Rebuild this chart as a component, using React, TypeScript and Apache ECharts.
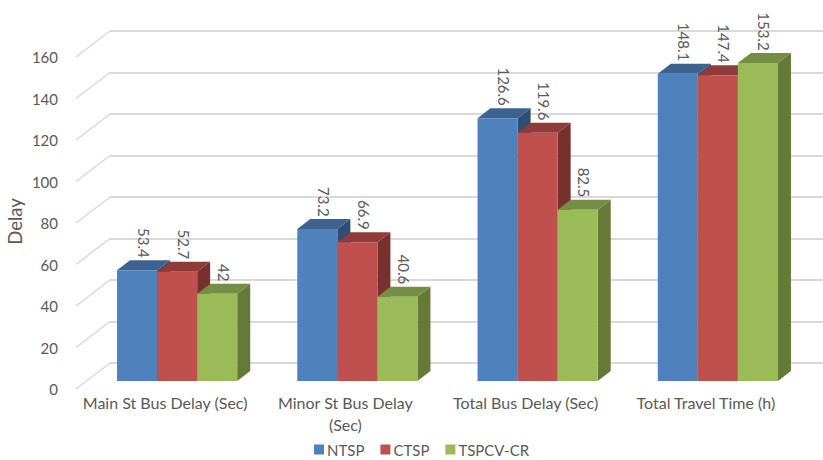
import React, { useEffect, useRef } from "react";
import * as echarts from "echarts";

const categories = [
  "Main St Bus Delay (Sec)",
  "Minor St Bus Delay\n(Sec)",
  "Total Bus Delay (Sec)",
  "Total Travel Time (h)",
];
const ntsp = [53.4, 73.2, 126.6, 148.1];
const ctsp = [52.7, 66.9, 119.6, 147.4];
const tspcv = [42, 40.6, 82.5, 153.2];
const ticks = [0, 20, 40, 60, 80, 100, 120, 140, 160];

const FONT = "Lato";
const TEXT = "#595959";
const GRID = "#D9D9D9";

// Depth of the extruded bars and of the wall behind them, in pixels.
const BAR_DX = 13;
const BAR_DY = 10;
const WALL_DX = 34;
const WALL_DY = 26;

const palette = [
  { name: "NTSP", values: ntsp, front: "#4F81BD", top: "#3C6390", side: "#2F4E75" },
  { name: "CTSP", values: ctsp, front: "#C0504D", top: "#8F3B39", side: "#77302E" },
  { name: "TSPCV-CR", values: tspcv, front: "#9BBB59", top: "#758E43", side: "#647A36" },
];

const BACK_GRID = 0;
const FRONT_GRID = 1;
const BAR_GRID = 2;

function barLeft(center: number, band: number, index: number) {
  const width = band / 4.5;
  return center - 1.5 * width + index * width;
}

function barSeries(entry: (typeof palette)[number], index: number) {
  return {
    type: "custom",
    name: entry.name,
    xAxisIndex: BAR_GRID,
    yAxisIndex: BAR_GRID,
    silent: true,
    itemStyle: { color: entry.front },
    data: entry.values.map((v, i) => [i, v]),
    encode: { x: 0, y: 1 },
    renderItem(_params: any, api: any) {
      const [cx, yTop] = api.coord([api.value(0), api.value(1)]);
      const [, yBase] = api.coord([api.value(0), 0]);
      const band = api.size([1, 0])[0];
      const w = band / 4.5;
      const x = barLeft(cx, band, index);
      return {
        type: "group",
        children: [
          {
            type: "polygon",
            shape: {
              points: [
                [x + w, yTop],
                [x + w + BAR_DX, yTop - BAR_DY],
                [x + w + BAR_DX, yBase - BAR_DY],
                [x + w, yBase],
              ],
            },
            style: { fill: entry.side },
          },
          {
            type: "polygon",
            shape: {
              points: [
                [x, yTop],
                [x + BAR_DX, yTop - BAR_DY],
                [x + w + BAR_DX, yTop - BAR_DY],
                [x + w, yTop],
              ],
            },
            style: { fill: entry.top },
          },
          {
            type: "rect",
            shape: { x, y: yTop, width: w, height: yBase - yTop },
            style: { fill: entry.front },
          },
        ],
      };
    },
  };
}

function labelSeries(entry: (typeof palette)[number], index: number) {
  return {
    type: "custom",
    xAxisIndex: BAR_GRID,
    yAxisIndex: BAR_GRID,
    silent: true,
    z: 5,
    data: entry.values.map((v, i) => [i, v]),
    encode: { x: 0, y: 1 },
    renderItem(_params: any, api: any) {
      const [cx, yTop] = api.coord([api.value(0), api.value(1)]);
      const band = api.size([1, 0])[0];
      const w = band / 4.5;
      return {
        type: "text",
        x: barLeft(cx, band, index) + w / 2 + 6.5,
        y: yTop - 12.5,
        rotation: -Math.PI / 2,
        style: {
          text: String(api.value(1)),
          align: "right",
          verticalAlign: "middle",
          fontFamily: FONT,
          fontSize: 15,
          fill: TEXT,
        },
      };
    },
  };
}

// Short slanted strokes joining each front tick to the wall gridline behind it.
const wallEdges = {
  type: "custom",
  xAxisIndex: FRONT_GRID,
  yAxisIndex: FRONT_GRID,
  silent: true,
  data: ticks.map((t) => [0, t]),
  encode: { y: 1 },
  renderItem(params: any, api: any) {
    const [, y] = api.coord([0, api.value(1)]);
    const x = params.coordSys.x + 1;
    return {
      type: "line",
      shape: { x1: x, y1: y, x2: x + WALL_DX, y2: y - WALL_DY },
      style: { stroke: GRID, lineWidth: 1.5, fill: "none" },
    };
  },
};

const option = {
  animation: false,
  backgroundColor: "#FFFFFF",
  textStyle: { fontFamily: FONT },
  tooltip: { show: false },
  grid: [
    { left: 110, top: 31, width: 713, height: 332 },
    { left: 75, top: 57, width: 721, height: 332 },
    { left: 87, top: 49, width: 721, height: 332 },
  ],
  xAxis: [
    { gridIndex: BACK_GRID, type: "category", data: categories, show: false },
    {
      gridIndex: FRONT_GRID,
      type: "category",
      data: categories,
      axisLine: { show: false },
      axisTick: { show: false },
      axisLabel: {
        interval: 0,
        color: TEXT,
        fontFamily: FONT,
        fontSize: 16,
        lineHeight: 22,
        margin: 2,
      },
    },
    { gridIndex: BAR_GRID, type: "category", data: categories, show: false },
  ],
  yAxis: [
    {
      gridIndex: BACK_GRID,
      type: "value",
      min: 0,
      max: 160,
      interval: 20,
      axisLine: { show: false },
      axisTick: { show: false },
      axisLabel: { show: false },
      splitLine: { show: true, lineStyle: { color: GRID, width: 2 } },
    },
    {
      gridIndex: FRONT_GRID,
      type: "value",
      min: 0,
      max: 160,
      interval: 20,
      axisLine: { show: false },
      axisTick: { show: false },
      splitLine: { show: false },
      axisLabel: { color: TEXT, fontFamily: FONT, fontSize: 15, margin: 17 },
    },
    {
      gridIndex: BAR_GRID,
      type: "value",
      min: 0,
      max: 160,
      interval: 20,
      axisLine: { show: false },
      axisTick: { show: false },
      axisLabel: { show: false },
      splitLine: { show: false },
    },
  ],
  legend: {
    left: 314,
    top: 442,
    padding: 0,
    icon: "rect",
    itemWidth: 10,
    itemHeight: 10,
    itemGap: 16,
    data: palette.map((p) => p.name),
    textStyle: { color: TEXT, fontFamily: FONT, fontSize: 15, padding: [0, 0, 0, -2] },
  },
  graphic: [
    {
      type: "text",
      x: 15,
      y: 221.5,
      rotation: Math.PI / 2,
      style: {
        text: "Delay",
        align: "center",
        verticalAlign: "middle",
        fontFamily: FONT,
        fontSize: 18.5,
        fill: TEXT,
      },
    },
  ],
  series: [
    wallEdges,
    ...palette.map(barSeries),
    ...palette.map(labelSeries),
  ],
};

export default function App() {
  const ref = useRef<HTMLDivElement>(null);
  useEffect(() => {
    document.body.style.margin = "0";
    const chart = echarts.init(ref.current!, undefined, { renderer: "svg" });
    chart.setOption(option as any);
    return () => chart.dispose();
  }, []);
  return <div ref={ref} style={{ width: 823, height: 460 }} />;
}
